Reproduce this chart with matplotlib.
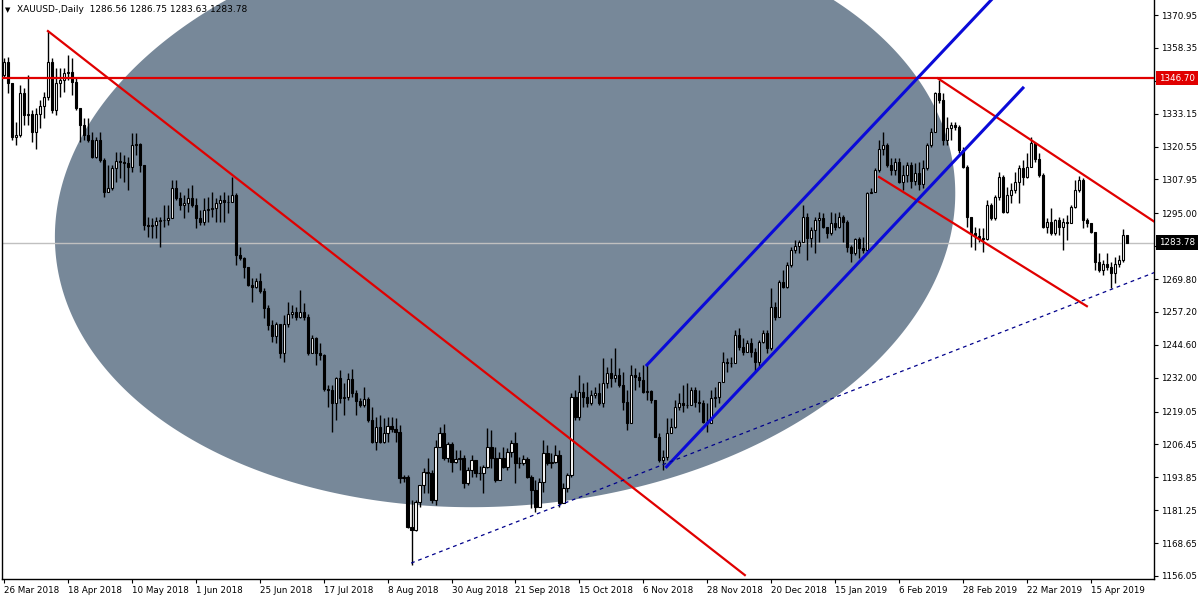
import matplotlib

matplotlib.use("Agg")
import matplotlib.pyplot as plt
import matplotlib.transforms as mtransforms
import numpy as np


# daily XAUUSD bars (bar 0 = 26 Mar 2018)
FIRST_OPEN = 1348.0

CLOSES = [
    1353.1, 1344.8, 1324.3, 1325.0, 1340.9, 1332.6, 1332.9, 1326.2, 1332.9, 1336.1,
    1339.7, 1353.1, 1334.6, 1344.8, 1346.0, 1348.6, 1349.2, 1345.4, 1335.2, 1328.8,
    1325.0, 1323.1, 1316.7, 1323.1, 1315.4, 1303.3, 1304.5, 1312.2, 1315.0, 1314.5,
    1314.1, 1312.8, 1321.1, 1321.4, 1313.5, 1290.5, 1290.0, 1290.5, 1292.0, 1292.3,
    1292.4, 1293.1, 1304.5, 1300.7, 1298.1, 1298.8, 1301.0, 1298.1, 1293.1, 1291.8,
    1296.2, 1296.6, 1296.9, 1298.8, 1300.1, 1299.2, 1299.4, 1302.0, 1279.0, 1278.0,
    1274.5, 1267.5, 1266.6, 1269.2, 1265.3, 1258.6, 1252.2, 1248.0, 1252.4, 1241.6,
    1252.4, 1256.6, 1257.3, 1255.4, 1257.3, 1255.4, 1241.6, 1247.1, 1241.3, 1240.7,
    1227.5, 1227.3, 1222.4, 1231.8, 1224.1, 1224.5, 1231.4, 1226.0, 1223.2, 1221.4,
    1223.7, 1215.8, 1207.5, 1213.2, 1207.5, 1210.7, 1213.5, 1212.2, 1211.3, 1193.4,
    1193.8, 1174.8, 1173.7, 1184.4, 1190.9, 1196.0, 1195.6, 1185.2, 1205.6, 1211.0,
    1201.1, 1206.6, 1199.8, 1200.7, 1201.1, 1191.5, 1196.6, 1200.4, 1195.4, 1195.4,
    1197.9, 1205.6, 1201.1, 1192.8, 1201.1, 1197.9, 1203.7, 1206.9, 1199.2, 1199.2,
    1200.7, 1194.1, 1189.0, 1182.6, 1192.2, 1203.0, 1199.2, 1199.8, 1202.4, 1183.9,
    1189.6, 1194.7, 1224.7, 1217.1, 1226.6, 1224.7, 1222.2, 1225.4, 1226.0, 1222.2,
    1229.9, 1233.7, 1231.8, 1233.0, 1229.2, 1222.8, 1214.5, 1233.0, 1232.4, 1231.1,
    1226.6, 1226.9, 1223.5, 1209.4, 1200.5, 1201.7, 1210.7, 1213.0, 1220.9, 1222.2,
    1221.5, 1221.5, 1227.3, 1222.8, 1222.2, 1215.2, 1214.5, 1224.1, 1224.7, 1230.5,
    1238.1, 1237.5, 1237.5, 1248.4, 1243.9, 1241.9, 1245.2, 1241.9, 1238.1, 1245.8,
    1249.0, 1243.2, 1259.2, 1255.4, 1268.8, 1266.9, 1275.2, 1280.9, 1282.5, 1284.1,
    1293.7, 1285.4, 1288.6, 1292.4, 1293.0, 1289.9, 1287.3, 1291.1, 1289.9, 1293.7,
    1291.8, 1282.2, 1279.9, 1285.0, 1281.6, 1280.9, 1302.6, 1303.3, 1311.6, 1319.5,
    1321.1, 1313.5, 1311.6, 1314.8, 1307.1, 1309.6, 1313.5, 1307.5, 1310.3, 1306.2,
    1312.2, 1321.1, 1326.3, 1340.9, 1338.4, 1323.1, 1327.5, 1328.8, 1328.2, 1319.2,
    1312.6, 1293.7, 1287.3, 1286.3, 1285.4, 1285.0, 1298.2, 1293.1, 1301.4, 1308.8,
    1295.6, 1302.0, 1303.9, 1307.1, 1312.2, 1309.0, 1312.9, 1321.8, 1315.7, 1309.7,
    1289.9, 1291.8, 1287.3, 1292.4, 1289.9, 1291.8, 1291.1, 1297.3, 1303.9, 1307.8,
    1292.4, 1291.4, 1287.9, 1276.5, 1273.3, 1275.6, 1274.5, 1272.0, 1275.6, 1277.1,
    1286.56, 1283.78,
]

HIGHS = [
    1354.3, 1355.0, 1344.8, 1330.1, 1344.1, 1342.8, 1348.0, 1334.6, 1335.2, 1338.4,
    1341.6, 1364.8, 1354.3, 1350.5, 1350.5, 1350.5, 1355.6, 1354.3, 1346.7, 1335.2,
    1331.4, 1331.4, 1326.2, 1324.3, 1326.2, 1316.0, 1313.5, 1313.5, 1318.6, 1318.6,
    1317.3, 1316.7, 1325.6, 1325.6, 1321.8, 1313.5, 1293.7, 1293.1, 1293.7, 1293.7,
    1298.1, 1298.1, 1307.7, 1307.7, 1303.3, 1302.0, 1304.5, 1305.8, 1300.7, 1296.2,
    1300.7, 1301.3, 1303.3, 1300.7, 1302.0, 1303.3, 1302.0, 1309.0, 1302.6, 1282.2,
    1278.4, 1274.5, 1270.1, 1270.1, 1272.2, 1266.2, 1259.9, 1254.1, 1253.5, 1251.8,
    1256.0, 1261.1, 1259.9, 1259.2, 1265.8, 1260.5, 1256.6, 1248.4, 1247.7, 1245.2,
    1241.1, 1229.2, 1229.2, 1232.4, 1234.9, 1229.9, 1233.7, 1235.2, 1227.3, 1224.1,
    1228.3, 1224.5, 1220.9, 1217.1, 1217.7, 1216.4, 1217.1, 1217.1, 1216.4, 1213.9,
    1194.7, 1194.7, 1185.2, 1185.2, 1190.9, 1197.3, 1201.1, 1196.6, 1208.1, 1213.2,
    1214.1, 1207.5, 1207.5, 1204.3, 1204.3, 1202.4, 1197.9, 1202.4, 1200.4, 1198.2,
    1198.6, 1212.6, 1211.9, 1205.6, 1203.7, 1205.6, 1205.0, 1208.1, 1211.3, 1201.8,
    1202.4, 1201.8, 1194.7, 1192.8, 1193.4, 1208.1, 1206.2, 1203.0, 1206.2, 1204.3,
    1191.5, 1195.4, 1226.0, 1227.3, 1233.0, 1229.9, 1230.5, 1227.3, 1228.6, 1229.9,
    1239.4, 1236.2, 1239.4, 1243.2, 1235.6, 1234.3, 1227.3, 1236.9, 1235.6, 1234.3,
    1236.9, 1236.9, 1227.3, 1223.5, 1210.7, 1204.3, 1216.4, 1216.4, 1223.5, 1226.0,
    1229.2, 1229.9, 1228.6, 1228.6, 1227.3, 1223.5, 1222.2, 1227.3, 1228.6, 1230.5,
    1242.0, 1239.4, 1240.1, 1250.3, 1250.9, 1247.1, 1246.4, 1247.1, 1243.2, 1246.4,
    1250.3, 1250.3, 1266.2, 1261.1, 1269.4, 1273.3, 1276.5, 1282.2, 1284.8, 1284.8,
    1298.1, 1295.0, 1289.9, 1293.7, 1295.6, 1295.0, 1289.9, 1295.6, 1295.0, 1295.6,
    1294.3, 1292.4, 1282.8, 1285.4, 1286.0, 1286.0, 1303.3, 1304.5, 1312.2, 1323.1,
    1326.2, 1321.8, 1316.0, 1316.0, 1316.0, 1313.5, 1314.8, 1314.8, 1314.1, 1314.8,
    1315.4, 1321.8, 1327.5, 1341.6, 1346.1, 1340.9, 1332.0, 1330.1, 1330.1, 1328.8,
    1320.5, 1313.5, 1293.7, 1289.9, 1289.2, 1289.2, 1300.1, 1298.8, 1302.0, 1310.9,
    1309.7, 1305.2, 1306.5, 1310.9, 1313.5, 1315.4, 1318.0, 1324.3, 1321.8, 1318.0,
    1310.3, 1293.1, 1296.9, 1292.7, 1293.7, 1293.1, 1294.3, 1298.2, 1307.7, 1309.3,
    1308.4, 1293.1, 1291.4, 1287.9, 1279.6, 1277.1, 1279.6, 1276.5, 1278.4, 1279.0,
    1288.8, 1286.75,
]

LOWS = [
    1346.7, 1340.9, 1323.1, 1321.1, 1324.3, 1328.8, 1328.8, 1322.4, 1319.6, 1327.5,
    1331.4, 1338.4, 1333.3, 1332.6, 1339.7, 1341.6, 1346.0, 1340.3, 1334.6, 1322.4,
    1323.1, 1322.4, 1316.0, 1316.0, 1314.7, 1301.3, 1303.3, 1303.9, 1307.1, 1308.4,
    1307.1, 1303.9, 1310.9, 1317.3, 1310.9, 1288.6, 1286.0, 1285.4, 1285.4, 1282.2,
    1289.9, 1290.5, 1293.1, 1300.1, 1296.2, 1293.1, 1295.6, 1297.5, 1289.2, 1290.5,
    1290.5, 1291.8, 1293.7, 1291.8, 1291.8, 1291.8, 1295.0, 1299.4, 1275.2, 1277.1,
    1270.1, 1267.1, 1261.1, 1266.2, 1264.3, 1254.7, 1250.3, 1245.8, 1245.2, 1239.4,
    1238.1, 1251.6, 1254.7, 1254.3, 1254.7, 1254.1, 1240.7, 1241.3, 1236.9, 1238.8,
    1227.0, 1220.9, 1211.3, 1215.8, 1222.2, 1217.7, 1223.5, 1224.7, 1217.7, 1220.6,
    1220.9, 1215.2, 1206.9, 1204.3, 1206.9, 1206.9, 1207.5, 1211.3, 1207.5, 1191.5,
    1192.1, 1174.3, 1160.2, 1173.3, 1182.6, 1187.7, 1187.7, 1183.9, 1183.2, 1205.6,
    1200.5, 1199.8, 1196.0, 1199.2, 1196.6, 1189.6, 1190.9, 1194.1, 1194.1, 1192.8,
    1187.7, 1197.3, 1197.3, 1192.2, 1193.4, 1197.3, 1196.6, 1201.8, 1191.5, 1197.3,
    1198.6, 1193.4, 1182.0, 1180.7, 1188.3, 1188.3, 1198.6, 1197.3, 1199.2, 1182.6,
    1183.9, 1188.3, 1194.1, 1215.8, 1215.8, 1220.9, 1220.9, 1221.5, 1224.1, 1221.5,
    1220.9, 1227.9, 1228.6, 1230.5, 1228.6, 1219.6, 1212.0, 1214.5, 1227.3, 1228.6,
    1226.0, 1223.5, 1222.2, 1209.4, 1199.8, 1196.6, 1200.5, 1210.7, 1212.6, 1219.6,
    1219.0, 1220.3, 1222.2, 1220.9, 1219.0, 1214.5, 1211.3, 1219.6, 1220.9, 1222.2,
    1230.5, 1234.3, 1236.2, 1237.5, 1242.6, 1240.7, 1241.9, 1240.1, 1234.3, 1236.2,
    1245.2, 1241.3, 1242.6, 1254.1, 1257.9, 1266.2, 1266.2, 1274.5, 1279.6, 1279.6,
    1284.8, 1277.1, 1282.2, 1279.6, 1284.1, 1289.2, 1285.4, 1286.7, 1288.6, 1289.2,
    1284.1, 1280.3, 1276.5, 1279.0, 1277.7, 1279.6, 1280.3, 1302.6, 1303.3, 1310.9,
    1317.3, 1312.8, 1309.6, 1309.6, 1306.5, 1303.9, 1307.1, 1304.5, 1305.8, 1303.9,
    1304.5, 1311.6, 1320.5, 1326.3, 1337.1, 1321.1, 1321.1, 1323.1, 1326.9, 1317.9,
    1312.2, 1289.9, 1282.2, 1280.9, 1284.1, 1280.3, 1284.8, 1292.4, 1292.4, 1300.1,
    1295.0, 1295.0, 1298.8, 1302.6, 1298.8, 1305.8, 1308.4, 1312.9, 1314.8, 1309.0,
    1289.2, 1287.3, 1286.7, 1286.7, 1286.7, 1280.9, 1284.8, 1291.1, 1296.9, 1303.3,
    1289.2, 1289.9, 1287.3, 1273.3, 1272.6, 1271.4, 1273.3, 1266.2, 1268.2, 1274.5,
    1276.5, 1283.63,
]

DATE_LABELS = [
    "26 Mar 2018", "18 Apr 2018", "10 May 2018", "1 Jun 2018", "25 Jun 2018",
    "17 Jul 2018", "8 Aug 2018", "30 Aug 2018", "21 Sep 2018", "15 Oct 2018",
    "6 Nov 2018", "28 Nov 2018", "20 Dec 2018", "15 Jan 2019", "6 Feb 2019",
    "28 Feb 2019", "22 Mar 2019", "15 Apr 2019",
]
LABEL_STEP = 16  # bars between date labels

PRICE_TICKS = [
    1370.95, 1358.35, 1345.75, 1333.15, 1320.55, 1307.95, 1295.00, 1282.40, 1269.80,
    1257.20, 1244.60, 1232.00, 1219.05, 1206.45, 1193.85, 1181.25, 1168.65, 1156.05,
]
HIDDEN_TICKS = [1345.75, 1282.40]  # covered by the price boxes

RESISTANCE = 1346.70
BID = 1283.78
TITLE = "XAUUSD-,Daily  1286.56 1286.75 1283.63 1283.78"

# drawn objects, anchors as (bar index, price)
RED_DOWN_LINE = [(11.0, 1364.8), (185.4, 1156.4)]
RED_CHANNEL_TOP = [(233.7, 1346.7), (270.0, 1309.9)]      # ray to the right
RED_CHANNEL_BOTTOM = [(219.0, 1308.9), (271.0, 1259.4)]
BLUE_CHANNEL_TOP = [(160.9, 1236.9), (255.0, 1389.6)]
BLUE_CHANNEL_BOTTOM = [(165.8, 1197.9), (255.0, 1343.0)]
SUPPORT_DOTTED = [(101.9, 1161.0), (140.0, 1183.8)]       # ray to the right

ELLIPSE_CENTER = (125.4, 1294.3)
ELLIPSE_MAJOR_END = (238.0, 1298.9)
ELLIPSE_MINOR_END = (121.6, 1182.5)

RED = "#e00000"
BLUE = "#0a0ad8"
NAVY = "#00008b"
SLATE = "#778899"


def ray(points, x_end):
    (x0, y0), (x1, y1) = points
    slope = (y1 - y0) / (x1 - x0)
    return [x0, x_end], [y0, y0 + slope * (x_end - x0)]


def main() -> None:
    plt.rcParams["font.family"] = ["DejaVu Sans"]

    closes = np.array(CLOSES)
    highs = np.array(HIGHS)
    lows = np.array(LOWS)
    opens = np.concatenate([[FIRST_OPEN], closes[:-1]])
    x = np.arange(len(closes))

    fig = plt.figure(figsize=(12, 6), dpi=100)
    ax = fig.add_axes([2 / 1200, 21 / 600, 1152 / 1200, 579 / 600])
    ax.set_xlim(-0.5, 287.8)
    ax.set_ylim(1154.9, 1376.7)

    # background ellipse
    t = np.linspace(0, 2 * np.pi, 500)
    cx, cy = ELLIPSE_CENTER
    ux, uy = ELLIPSE_MAJOR_END[0] - cx, ELLIPSE_MAJOR_END[1] - cy
    vx, vy = ELLIPSE_MINOR_END[0] - cx, ELLIPSE_MINOR_END[1] - cy
    ax.fill(cx + ux * np.cos(t) + vx * np.sin(t),
            cy + uy * np.cos(t) + vy * np.sin(t),
            color=SLATE, lw=0, zorder=1)

    ax.axhline(BID, color="#c0c0c0", lw=1, zorder=2)

    # candles
    up = closes >= opens
    ax.vlines(x, lows, highs, color="black", lw=1, zorder=3)
    ax.bar(x, np.abs(closes - opens), bottom=np.minimum(opens, closes), width=0.55,
           color=np.where(up, "white", "black"), edgecolor="black", linewidth=0.8,
           zorder=4)

    # drawn lines
    ax.axhline(RESISTANCE, color=RED, lw=1.6, zorder=5)
    for pts in (RED_DOWN_LINE, RED_CHANNEL_BOTTOM):
        ax.plot(*zip(*pts), color=RED, lw=1.6, zorder=5)
    ax.plot(*ray(RED_CHANNEL_TOP, 300), color=RED, lw=1.6, zorder=5)
    for pts in (BLUE_CHANNEL_TOP, BLUE_CHANNEL_BOTTOM):
        ax.plot(*zip(*pts), color=BLUE, lw=2.2, zorder=5)
    ax.plot(*ray(SUPPORT_DOTTED, 300), color=NAVY, lw=0.9, ls=(0, (3, 3)), zorder=5)

    # axes styling
    ax.spines["top"].set_visible(False)
    for side in ("left", "right", "bottom"):
        ax.spines[side].set_linewidth(1)
    ax.yaxis.tick_right()
    ax.set_yticks(PRICE_TICKS)
    ax.set_yticklabels(["" if v in HIDDEN_TICKS else f"{v:.2f}" for v in PRICE_TICKS])
    ax.set_xticks(np.arange(len(DATE_LABELS)) * LABEL_STEP)
    ax.set_xticklabels(DATE_LABELS, ha="left")
    ax.tick_params(axis="both", direction="out", length=3, width=0.8,
                   labelsize=6.3, pad=2)

    # price boxes on the right scale
    trans = mtransforms.blended_transform_factory(ax.transAxes, ax.transData)
    for price, face in ((RESISTANCE, RED), (BID, "black")):
        ax.text(1.0 + 5 / 1152, price, f"{price:.2f}", transform=trans,
                ha="left", va="center", color="white", fontsize=6.3, zorder=10,
                clip_on=False,
                bbox=dict(boxstyle="square,pad=0.3", fc=face, ec="none"))

    fig.text(5 / 1200, 1 - 10 / 600, "\u25bc", fontsize=5, va="center")
    fig.text(17 / 1200, 1 - 10 / 600, TITLE, fontsize=6.5, va="center")

    fig.savefig("out.png", dpi=100)
    plt.close(fig)


if __name__ == "__main__":
    main()
